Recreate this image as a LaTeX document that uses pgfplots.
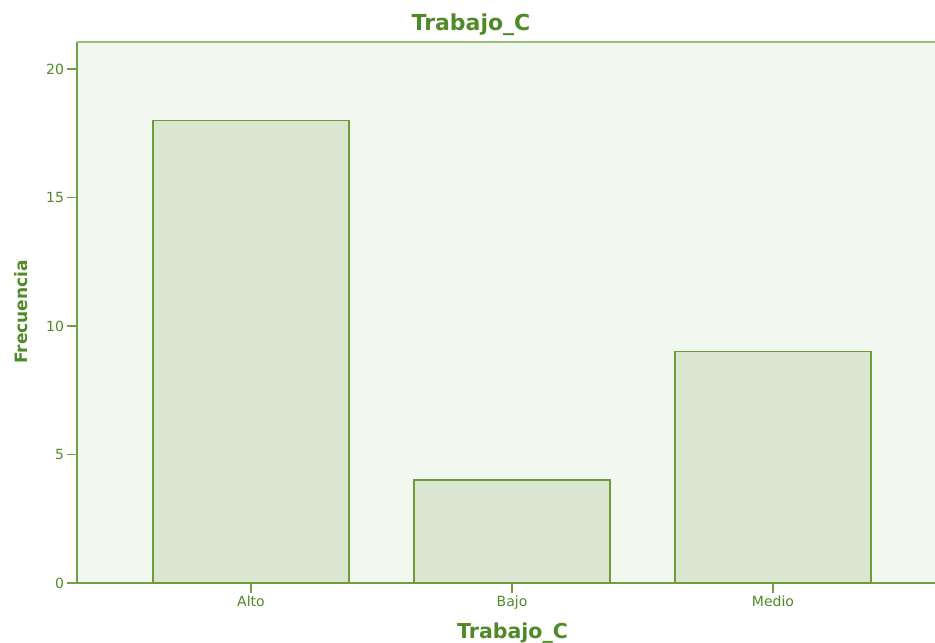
\documentclass[border=0pt]{standalone}
\usepackage{pgfplots}
\pgfplotsset{compat=1.18}
\usepackage{fontspec}
\setmainfont{DejaVu Sans}
\definecolor{txtg}{RGB}{80,138,40}
\definecolor{lineg}{RGB}{112,160,68}
\definecolor{topg}{RGB}{150,190,120}
\definecolor{bgc}{RGB}{242,247,240}
\definecolor{barf}{RGB}{219,230,208}
\definecolor{bare}{RGB}{110,156,60}
\begin{document}
\begin{tikzpicture}
\useasboundingbox (0bp,0bp) rectangle (935bp,643bp);
\begin{axis}[
  at={(77bp,60bp)}, anchor=south west,
  scale only axis, width=858bp, height=541bp,
  xmin=-0.6667, xmax=2.6207, ymin=0, ymax=21.05,
  axis x line*=bottom, axis y line*=left,
  axis background/.style={fill=bgc},
  ybar, bar width=0.75,
  xtick={0,1,2}, xticklabels={Alto,Bajo,Medio},
  ytick={0,5,10,15,20},
  tick align=outside,
  major tick length=9.5bp,
  tick style={lineg, line width=1.3bp},
  axis line style={lineg, line width=1.5bp},
  ticklabel style={font=\fontsize{14bp}{16bp}\selectfont, text=txtg},
  /pgf/number format/assume math mode=true,
  clip=false,
]
\addplot[fill=barf, draw=bare, line width=1.5bp] coordinates {(0,18) (1,4) (2,9)};
\draw[topg, line width=2bp] (rel axis cs:0,1) -- (rel axis cs:1,1);
\end{axis}
\node[anchor=base, text=txtg, font=\bfseries\fontsize{22bp}{24bp}\selectfont] at (471bp,612bp) {Trabajo\_C};
\node[anchor=base, text=txtg, font=\bfseries\fontsize{20.5bp}{24bp}\selectfont] at (512.5bp,5bp) {Trabajo\_C};
\node[anchor=base, rotate=90, text=txtg, font=\bfseries\fontsize{17bp}{20bp}\selectfont] at (27bp,331bp) {Frecuencia};
\end{tikzpicture}
\end{document}
